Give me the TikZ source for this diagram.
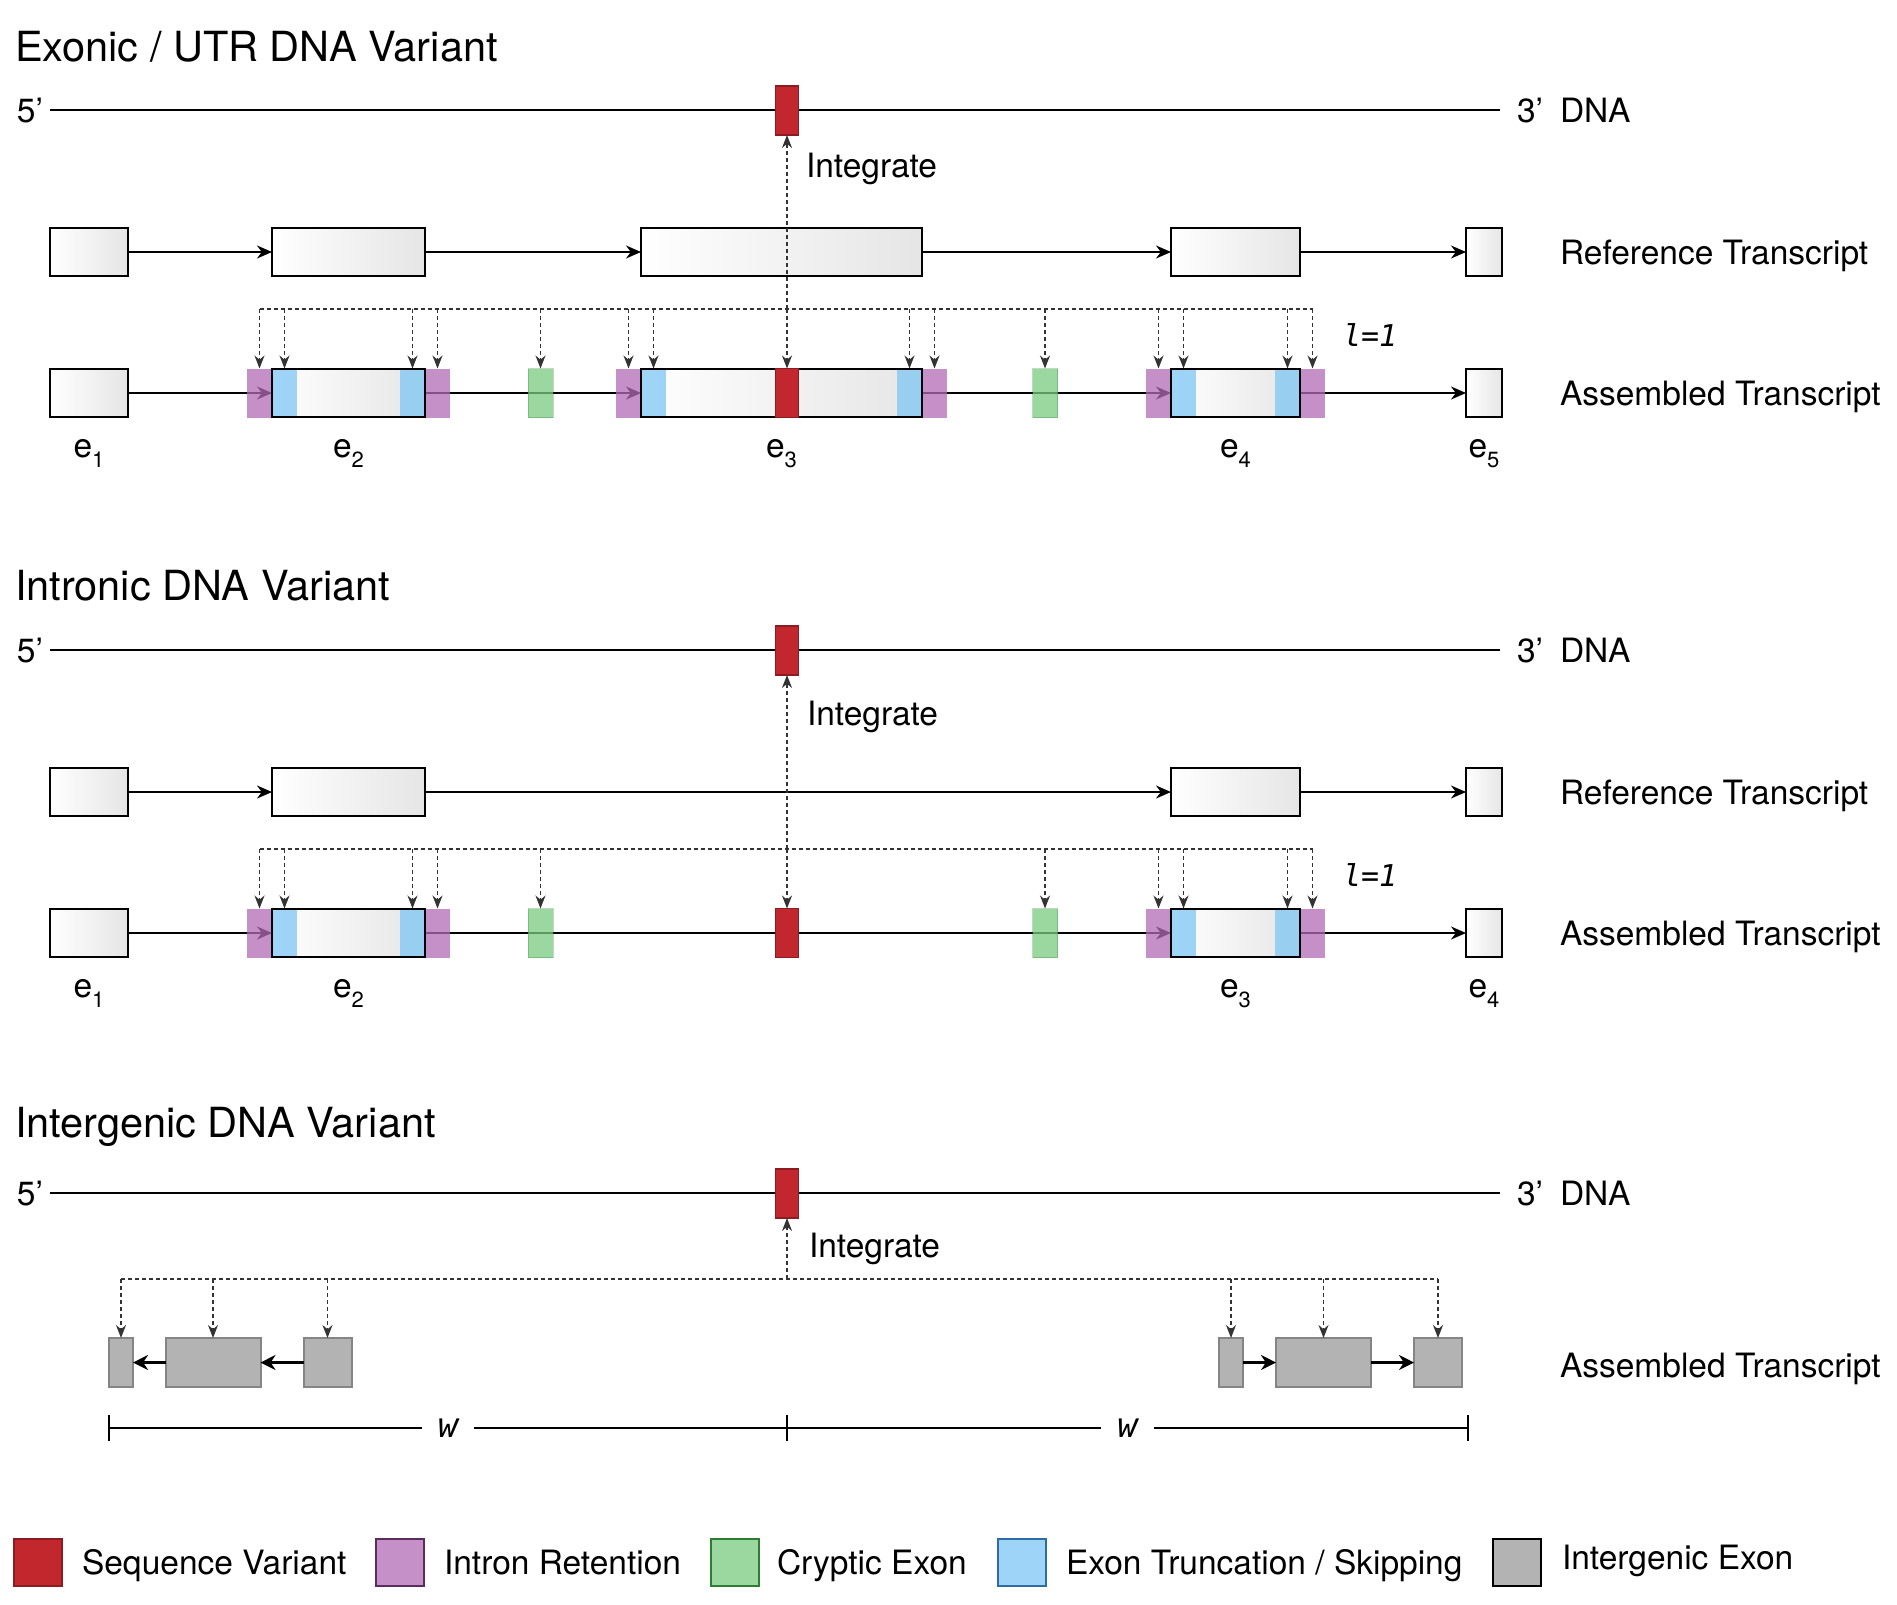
\documentclass[tikz,border=0pt]{standalone}
\usepackage{fontspec}
\setmainfont{TeX Gyre Heros}
\newfontfamily\codefont{DejaVu Sans Mono}
\usetikzlibrary{arrows.meta, positioning}

\definecolor{varred}{HTML}{C1272D}
\definecolor{varredline}{HTML}{8C1C22}
\definecolor{irpurple}{RGB}{178,107,182}
\definecolor{irline}{HTML}{5B2C5E}
\definecolor{cegreen}{RGB}{120,203,128}
\definecolor{celine}{HTML}{2E7D32}
\definecolor{etblue}{RGB}{126,198,244}
\definecolor{etline}{HTML}{2D6DA3}
\definecolor{iggray}{HTML}{B3B3B3}
\definecolor{igline}{HTML}{858585}
\definecolor{probegray}{HTML}{333333}

\newcommand\exlab[1]{e\raisebox{-10pt}{\fontsize{22}{22}\selectfont #1}}

\tikzset{
  every node/.style={outer sep=0pt},
  txt/.style={font=\fontsize{33.5}{40}\selectfont, inner sep=0pt},
  ttl/.style={font=\fontsize{41.5}{49}\selectfont, inner sep=0pt, anchor=base west},
  code/.style={font=\codefont\itshape\fontsize{30}{36}\selectfont, inner sep=0pt},
  exon/.style={draw, line width=2pt, left color=white, right color=gray!20, minimum height=48, inner sep=0pt},
  piece/.style={minimum height=49, minimum width=25, inner sep=0pt},
  intron/.style={piece, fill=irpurple, fill opacity=.75},
  trunc/.style={piece, fill=etblue, fill opacity=.75},
  cryptic/.style={piece, fill=cegreen, fill opacity=.75, draw=celine, draw opacity=.3, line width=1pt},
  variant/.style={piece, minimum width=23, fill=varred, draw=varredline, line width=1.5pt},
  inter/.style={fill=iggray, draw=igline, line width=2pt, minimum height=49, inner sep=0pt},
  key/.style={minimum width=48, minimum height=47, line width=2pt, inner sep=0pt},
  dna/.style={line width=2pt},
  flow/.style={line width=2pt, -{Stealth[length=15pt,width=13pt]}},
  bigflow/.style={line width=2.5pt, -{Stealth[length=15pt,width=15pt]}},
  probe/.style={draw=probegray, line width=1.5pt, dash pattern=on 4pt off 3pt, -{Stealth[length=13pt,width=10pt]}},
  bus/.style={draw=probegray, line width=1.5pt, dash pattern=on 4pt off 3pt},
}

\begin{document}
\begin{tikzpicture}[x=1pt, y=-1pt]
\useasboundingbox (0,0) rectangle (1897,1604);

% exonic / UTR variant
\node[ttl] (title1) at (15,61) {Exonic / UTR DNA Variant};
\coordinate (dna1s) at (50,110);
\coordinate (dna1e) at (1500,110);
\draw[dna] (dna1s) -- (dna1e);
\node[txt, anchor=base east] (five1) at (43,122) {5’};
\node[txt, anchor=base west] (three1) at (1517,122) {3’};
\node[txt, anchor=base west] (dnalab1) at (1560,122) {DNA};
\node[variant] (var1) at (787,110.5) {};

\node[exon, minimum width=78] (ref1a) at (89,252) {};
\node[exon, minimum width=153] (ref1b) at (348.5,252) {};
\node[exon, minimum width=281] (ref1c) at (781.5,252) {};
\node[exon, minimum width=129] (ref1d) at (1235.5,252) {};
\node[exon, minimum width=36] (ref1e) at (1484,252) {};
\foreach \a/\b in {ref1a/ref1b, ref1b/ref1c, ref1c/ref1d, ref1d/ref1e}
  \draw[flow] (\a) -- (\b);
\node[txt, anchor=base west] (reflab1) at (1560,264) {Reference Transcript};

\node[exon, minimum width=78] (asm1a) at (89,393) {};
\node[exon, minimum width=153] (asm1b) at (348.5,393) {};
\node[exon, minimum width=281] (asm1c) at (781.5,393) {};
\node[exon, minimum width=129] (asm1d) at (1235.5,393) {};
\node[exon, minimum width=36] (asm1e) at (1484,393) {};
\foreach \a/\b in {asm1a/asm1b, asm1b/asm1c, asm1c/asm1d, asm1d/asm1e}
  \draw[flow] (\a) -- (\b);

\node[intron, left=0pt of asm1b] (ir1a) {};
\node[trunc, anchor=west] (et1a) at (asm1b.west) {};
\node[trunc, anchor=east] (et1b) at (asm1b.east) {};
\node[intron, right=0pt of asm1b] (ir1b) {};
\node[cryptic] (ce1a) at (540.5,393) {};
\node[intron, left=0pt of asm1c] (ir1c) {};
\node[trunc, anchor=west] (et1c) at (asm1c.west) {};
\node[trunc, anchor=east] (et1d) at (asm1c.east) {};
\node[intron, right=0pt of asm1c] (ir1d) {};
\node[cryptic] (ce1b) at (1045,393) {};
\node[intron, left=0pt of asm1d] (ir1e) {};
\node[trunc, anchor=west] (et1e) at (asm1d.west) {};
\node[trunc, anchor=east] (et1f) at (asm1d.east) {};
\node[intron, right=0pt of asm1d] (ir1f) {};
\foreach \n in {asm1b, asm1c, asm1d}
  \draw[line width=2pt] (\n.south west) rectangle (\n.north east);
\node[variant] (var1b) at (787,393) {};
\node[txt, anchor=base west] (asmlab1) at (1560,405) {Assembled Transcript};

\coordinate (bus1) at (0,309);
\draw[bus] (ir1a.north |- bus1) -- (ir1f.north |- bus1);
\foreach \n in {ir1a, et1a, et1b, ir1b, ce1a, ir1c, et1c, var1b, et1d, ir1d, ce1b, ir1e, et1e, et1f, ir1f}
  \draw[probe] (\n.north |- bus1) -- (\n.north);
\draw[probe] (var1b.north |- bus1) -- (var1.south);
\node[txt, anchor=base west] (int1) at (806,177) {Integrate};
\node[code, anchor=base west] (len1) at (1343,346) {l=1};

\coordinate (lab1) at (0,457);
\foreach \n/\i in {asm1a/1, asm1b/2, asm1c/3, asm1d/4, asm1e/5}
  \node[txt, anchor=base] (e1\i) at (\n |- lab1) {\exlab{\i}};

% intronic variant
\begin{scope}[shift={(0,540)}]
\node[ttl] (title2) at (15,60) {Intronic DNA Variant};
\coordinate (dna2s) at (50,110);
\coordinate (dna2e) at (1500,110);
\draw[dna] (dna2s) -- (dna2e);
\node[txt, anchor=base east] (five2) at (43,122) {5’};
\node[txt, anchor=base west] (three2) at (1517,122) {3’};
\node[txt, anchor=base west] (dnalab2) at (1560,122) {DNA};
\node[variant] (var2) at (787,110.5) {};

\node[exon, minimum width=78] (ref2a) at (89,252) {};
\node[exon, minimum width=153] (ref2b) at (348.5,252) {};
\node[exon, minimum width=129] (ref2c) at (1235.5,252) {};
\node[exon, minimum width=36] (ref2d) at (1484,252) {};
\foreach \a/\b in {ref2a/ref2b, ref2b/ref2c, ref2c/ref2d}
  \draw[flow] (\a) -- (\b);
\node[txt, anchor=base west] (reflab2) at (1560,264) {Reference Transcript};

\node[exon, minimum width=78] (asm2a) at (89,393) {};
\node[exon, minimum width=153] (asm2b) at (348.5,393) {};
\node[exon, minimum width=129] (asm2c) at (1235.5,393) {};
\node[exon, minimum width=36] (asm2d) at (1484,393) {};
\foreach \a/\b in {asm2a/asm2b, asm2b/asm2c, asm2c/asm2d}
  \draw[flow] (\a) -- (\b);

\node[intron, left=0pt of asm2b] (ir2a) {};
\node[trunc, anchor=west] (et2a) at (asm2b.west) {};
\node[trunc, anchor=east] (et2b) at (asm2b.east) {};
\node[intron, right=0pt of asm2b] (ir2b) {};
\node[cryptic] (ce2a) at (540.5,393) {};
\node[cryptic] (ce2b) at (1045,393) {};
\node[intron, left=0pt of asm2c] (ir2c) {};
\node[trunc, anchor=west] (et2c) at (asm2c.west) {};
\node[trunc, anchor=east] (et2d) at (asm2c.east) {};
\node[intron, right=0pt of asm2c] (ir2d) {};
\foreach \n in {asm2b, asm2c}
  \draw[line width=2pt] (\n.south west) rectangle (\n.north east);
\node[variant] (var2b) at (787,393) {};
\node[txt, anchor=base west] (asmlab2) at (1560,405) {Assembled Transcript};

\coordinate (bus2) at (0,309);
\draw[bus] (ir2a.north |- bus2) -- (ir2d.north |- bus2);
\foreach \n in {ir2a, et2a, et2b, ir2b, ce2a, var2b, ce2b, ir2c, et2c, et2d, ir2d}
  \draw[probe] (\n.north |- bus2) -- (\n.north);
\draw[probe] (var2b.north |- bus2) -- (var2.south);
\node[txt, anchor=base west] (int2) at (807,185) {Integrate};
\node[code, anchor=base west] (len2) at (1343,346) {l=1};

\coordinate (lab2) at (0,457);
\foreach \n/\i in {asm2a/1, asm2b/2, asm2c/3, asm2d/4}
  \node[txt, anchor=base] (e2\i) at (\n |- lab2) {\exlab{\i}};
\end{scope}

% intergenic variant
\begin{scope}[shift={(0,1083)}]
\node[ttl] (title3) at (15,54) {Intergenic DNA Variant};
\coordinate (dna3s) at (50,110);
\coordinate (dna3e) at (1500,110);
\draw[dna] (dna3s) -- (dna3e);
\node[txt, anchor=base east] (five3) at (43,122) {5’};
\node[txt, anchor=base west] (three3) at (1517,122) {3’};
\node[txt, anchor=base west] (dnalab3) at (1560,122) {DNA};
\node[variant] (var3) at (787,110.5) {};

\node[inter, minimum width=24] (ig3a) at (121,279.5) {};
\node[inter, minimum width=95] (ig3b) at (213,279.5) {};
\node[inter, minimum width=48] (ig3c) at (327.5,279.5) {};
\node[inter, minimum width=24] (ig3d) at (1231,279.5) {};
\node[inter, minimum width=95] (ig3e) at (1323.5,279.5) {};
\node[inter, minimum width=48] (ig3f) at (1438,279.5) {};
\foreach \a/\b in {ig3c/ig3b, ig3b/ig3a, ig3d/ig3e, ig3e/ig3f}
  \draw[bigflow] (\a) -- (\b);
\node[txt, anchor=base west] (asmlab3) at (1560,294) {Assembled Transcript};

\coordinate (bus3) at (0,196);
\coordinate (bus3m) at (787,196);
\draw[bus] (ig3a.north |- bus3) -- (ig3f.north |- bus3);
\foreach \n in {ig3a, ig3b, ig3c, ig3d, ig3e, ig3f}
  \draw[probe] (\n.north |- bus3) -- (\n.north);
\draw[probe] (bus3m) -- (var3.south);
\node[txt, anchor=base west] (int3) at (809,174) {Integrate};

\coordinate (win3l) at (109,345);
\coordinate (win3m) at (787,345);
\coordinate (win3r) at (1468,345);
\draw[line width=1.5pt] (win3l) -- node[code, font=\codefont\itshape\fontsize{34}{40}\selectfont, fill=white, inner xsep=16pt] (w3a) {w} (win3m)
  -- node[code, font=\codefont\itshape\fontsize{34}{40}\selectfont, fill=white, inner xsep=16pt] (w3b) {w} (win3r);
\foreach \c in {win3l, win3m, win3r}
  \draw[line width=1.5pt] ([yshift=13pt]\c) -- ([yshift=-13pt]\c);
\end{scope}

% legend
\node[key, fill=varred, draw=varredline] (key1) at (37.5,1562) {};
\node[key, fill=irpurple, fill opacity=.75, draw=irline, draw opacity=1] (key2) at (399.5,1562) {};
\node[key, fill=cegreen, fill opacity=.75, draw=celine, draw opacity=1] (key3) at (735,1562) {};
\node[key, fill=etblue, fill opacity=.75, draw=etline, draw opacity=1] (key4) at (1021.5,1562) {};
\node[key, fill=iggray, draw=black] (key5) at (1517,1562) {};
\node[txt, anchor=base west] (keylab1) at (82,1574) {Sequence Variant};
\node[txt, anchor=base west] (keylab2) at (444,1574) {Intron Retention};
\node[txt, anchor=base west] (keylab3) at (777,1574) {Cryptic Exon};
\node[txt, anchor=base west] (keylab4) at (1066,1574) {Exon Truncation / Skipping};
\node[txt, anchor=base west] (keylab5) at (1562,1569) {Intergenic Exon};

\end{tikzpicture}
\end{document}
